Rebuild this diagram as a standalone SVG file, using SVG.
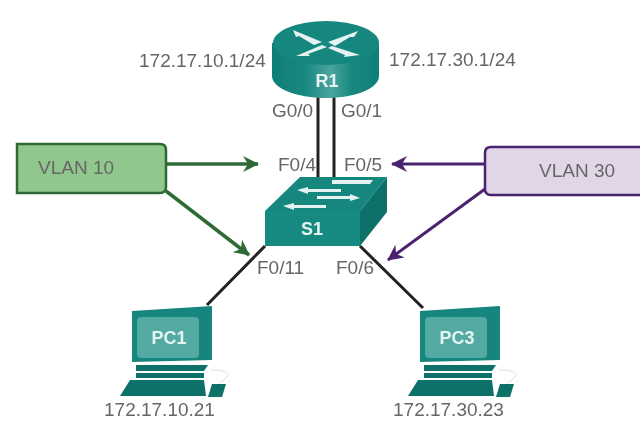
<svg xmlns="http://www.w3.org/2000/svg" width="640" height="440" viewBox="0 0 640 440">
<defs>
<linearGradient id="body" x1="0" x2="1" y1="0" y2="0"><stop offset="0" stop-color="#0f7f78"/><stop offset="0.3" stop-color="#17877f"/><stop offset="0.55" stop-color="#4aa59e"/><stop offset="0.75" stop-color="#17877f"/><stop offset="1" stop-color="#0f7f78"/></linearGradient>
<marker id="ag" viewBox="0 0 16 16" refX="15" refY="8" markerUnits="userSpaceOnUse" markerWidth="16" markerHeight="16" orient="auto"><path d="M0 0L16 8L0 16L5 8Z" fill="#2f6b35"/></marker>
<marker id="ap" viewBox="0 0 16 16" refX="15" refY="8" markerUnits="userSpaceOnUse" markerWidth="16" markerHeight="16" orient="auto"><path d="M0 0L16 8L0 16L5 8Z" fill="#4a2370"/></marker>
<filter id="soft" x="-5%" y="-5%" width="110%" height="110%"><feGaussianBlur stdDeviation="0.6"/></filter>
</defs>
<style>
text{font-family:"Liberation Sans",Arial,sans-serif;font-size:19px;fill:#666}
.n{font-weight:bold;fill:#e6f4f2;text-anchor:middle;font-size:18px}
.w{fill:#e4f3f1}
.d{fill:#0d6f69}
.m{fill:#17857d}
.l{fill:#52aaa2}
.link{stroke:#222;fill:none}
</style>
<rect width="640" height="440" fill="#fff"/>
<g id="connectors" filter="url(#soft)">
<path class="link" stroke-width="3" d="M318 96V178M334 96V178M265 246L207 305M360 246L423 308"/>
<path fill="none" stroke="#2f6b35" stroke-width="3.5" d="M166 164H258" marker-end="url(#ag)"/>
<path fill="none" stroke="#2f6b35" stroke-width="3.5" d="M166 191L249 255" marker-end="url(#ag)"/>
<path fill="none" stroke="#4a2370" stroke-width="3" d="M485 164H392" marker-end="url(#ap)"/>
<path fill="none" stroke="#4a2370" stroke-width="3" d="M485 189L388 260" marker-end="url(#ap)"/>
</g>
<g id="vlan10" filter="url(#soft)">
<path d="M17 144H160Q166 144 166 150V187Q166 193 160 193H17Z" fill="#8fc78c" stroke="#2f6b35" stroke-width="2.5"/>
<text x="38" y="174">VLAN 10</text>
</g>
<g id="vlan30" filter="url(#soft)">
<path d="M640 147H491Q485 147 485 153V189Q485 195 491 195H640" fill="#e0d6e8" stroke="#4a2370" stroke-width="2.5"/>
<text x="539" y="177">VLAN 30</text>
</g>
<g id="R1" filter="url(#soft)">
<path d="M272 43V76C272 88 296 98 326 98S379 88 379 76V43Z" fill="url(#body)"/>
<ellipse cx="326" cy="43" rx="53" ry="22" fill="#17877f"/>
<path class="w" d="M293 30L322 42L314 45L299 36L296 37ZM358 31L328 42L335 46L350 37L354 37ZM296 56L322 45L327 47L308 54L310 56ZM360 55L332 46L328 48L345 55L344 57Z"/>
<text class="n" x="327" y="87">R1</text>
</g>
<g id="S1" filter="url(#soft)">
<path d="M265 211L300 177H387L360 211Z" fill="#17877f"/>
<path class="d" d="M360 211L387 177V212L360 246Z"/>
<rect x="265" y="211" width="95" height="35" fill="#128a80"/>
<path class="w" d="M332 180H373L370 184H332ZM297 190L308 187V189H341V192H308V194ZM317 196H350V194L360 198L350 201V199H317ZM283 206L294 203V205H326V208H294V210Z"/>
<text class="n" x="312" y="235">S1</text>
</g>
<g id="PC1" filter="url(#soft)">
<path class="m" d="M132 311L212 306V360L132 362Z"/>
<rect class="l" x="137" y="317" width="62" height="41" rx="4"/>
<text class="n" x="169" y="344">PC1</text>
<path class="d" d="M136 365H208L204 371H136ZM136 373H204V378H136ZM130 380H204L206 396H120Z"/>
<path class="d" d="M212 384H226L222 397H208Z"/>
<path d="M211 370Q230 370 228 376Q224 380 220 383" fill="none" stroke="#cfe4e2" stroke-width="1"/>
<text x="104" y="416">172.17.10.21</text>
</g>
<g id="PC3" filter="url(#soft)">
<path class="m" d="M420 311L500 306V360L420 362Z"/>
<rect class="l" x="425" y="317" width="62" height="41" rx="4"/>
<text class="n" x="457" y="344">PC3</text>
<path class="d" d="M424 365H496L492 371H424ZM424 373H492V378H424ZM418 380H492L494 396H408Z"/>
<path class="d" d="M500 384H514L510 397H496Z"/>
<path d="M499 370Q518 370 516 376Q512 380 508 383" fill="none" stroke="#cfe4e2" stroke-width="1"/>
<text x="393" y="416">172.17.30.23</text>
</g>
<g id="labels" filter="url(#soft)">
<text x="139" y="67">172.17.10.1/24</text>
<text x="389" y="66">172.17.30.1/24</text>
<text x="272" y="117">G0/0</text>
<text x="341" y="117">G0/1</text>
<text x="278" y="171">F0/4</text>
<text x="344" y="171">F0/5</text>
<text x="257" y="274">F0/11</text>
<text x="336" y="274">F0/6</text>
</g>
</svg>
